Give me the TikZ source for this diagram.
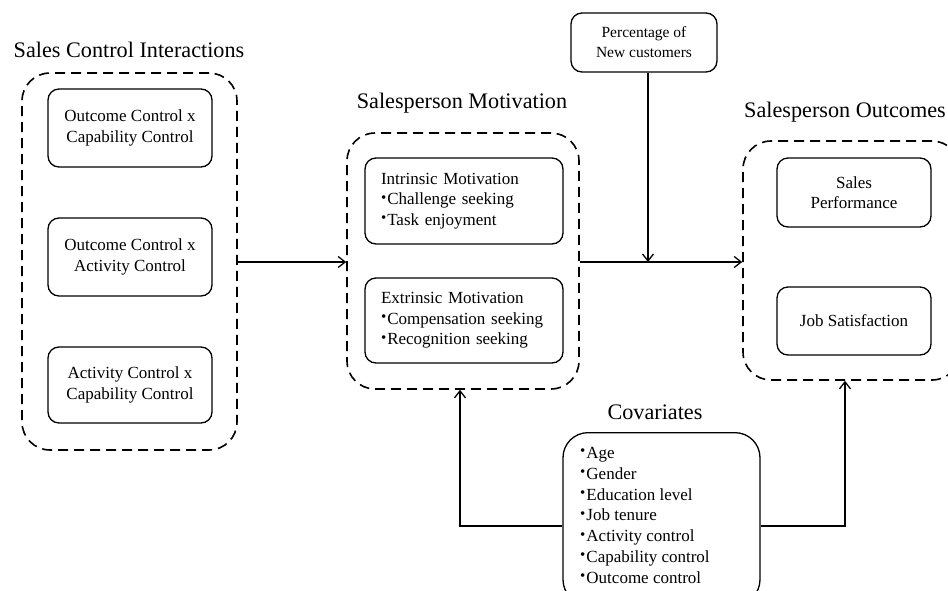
\documentclass[tikz,border=0pt]{standalone}
\usepackage{fontspec}
\setmainfont{Liberation Serif}
\usepackage{graphicx}
\usetikzlibrary{arrows.meta}
\newcommand{\bdot}{{\fontsize{15}{15}\selectfont\raisebox{2.6pt}{•}}\hspace{1pt}}
\tikzset{
  grp/.style={draw, line width=1.6pt, dash pattern=on 10pt off 6pt, rounded corners=28pt, inner sep=0pt},
  box/.style={draw, line width=1.3pt, rounded corners=11pt, align=center, inner sep=0pt,
              font=\fontsize{17}{20.5}\selectfont},
  lbox/.style={draw, line width=1.3pt, rounded corners=11pt, align=left, inner ysep=0pt, inner xsep=16pt,
              font=\fontsize{17}{20.5}\selectfont},
  ttl/.style={font=\fontsize{22.2}{24}\selectfont, inner sep=0pt},
  conn/.style={line width=1.3pt, -{Straight Barb[length=7pt,width=11pt,line width=1.3pt]}},
  plain/.style={line width=1.3pt}
}
\begin{document}
\begin{tikzpicture}[x=1pt,y=-1pt]
\useasboundingbox (0,0) rectangle (948,590);
\clip (0,0) rectangle (948,590);
% titles
\node[ttl] (t1) at (129,50) {Sales Control Interactions};
\node[ttl] (t2) at (462,103) {Salesperson Motivation};
\node[ttl,anchor=west] (t3) at (744,112) {Salesperson Outcomes};
\node[ttl] (t4) at (655,412) {Covariates};
% groups
\node[grp, minimum width=215pt, minimum height=377pt] (g1) at (129.5,261.5) {};
\node[grp, minimum width=232pt, minimum height=256pt] (g2) at (463,261) {};
\node[grp, minimum width=217pt, minimum height=239pt] (g3) at (851.5,260.5) {};
% left boxes
\node[box, minimum width=164pt, minimum height=78pt] (a1) at (130,128) {Outcome Control x\\Capability Control};
\node[box, minimum width=164pt, minimum height=78pt] (a2) at (130,257) {Outcome Control x\\Activity Control};
\node[box, minimum width=164pt, minimum height=76pt] (a3) at (130,385) {Activity Control x\\Capability Control};
% motivation boxes
\node[lbox, text width=166pt, minimum height=86pt] (m1) at (464,201) {Intrinsic Motivation\\\bdot Challenge seeking\\\bdot Task enjoyment};
\node[lbox, text width=166pt, minimum height=85pt] (m2) at (464,320.5) {Extrinsic Motivation\\\bdot Compensation seeking\\\bdot Recognition seeking};
% percentage
\node[box, minimum width=146pt, minimum height=59pt, font=\fontsize{15.5}{20}\selectfont] (p) at (644,42.5) {Percentage of\\New customers};
% outcomes
\node[box, minimum width=154pt, minimum height=69pt] (o1) at (854,192.5) {Sales\\Performance};
\node[box, minimum width=154pt, minimum height=68pt] (o2) at (854,321) {Job Satisfaction};
% covariates
\node[draw, line width=1.3pt, rounded corners=25pt, minimum width=197pt, minimum height=172pt, anchor=north] (c) at (661.5,432) {};
\node[align=left, anchor=north west, inner sep=0pt, font=\fontsize{17}{20.8}\selectfont] (cl) at (580,447)
 {\bdot Age\\\bdot Gender\\\bdot Education level\\\bdot Job tenure\\\bdot Activity control\\\bdot Capability control\\\bdot Outcome control};
% connectors
\coordinate (j) at (648,262);
\draw[conn] (g1.east |- 0,262) -- (g2.west |- 0,262);
\draw[conn] (g2.east |- 0,262) -- (g3.west |- 0,262);
\draw[conn] (p.south -| j) -- (j);
\draw[conn] (c.west |- 0,526) -| (g2.south -| 460,0);
\draw[conn] (c.east |- 0,526) -| (g3.south -| 845,0);
\end{tikzpicture}
\end{document}
